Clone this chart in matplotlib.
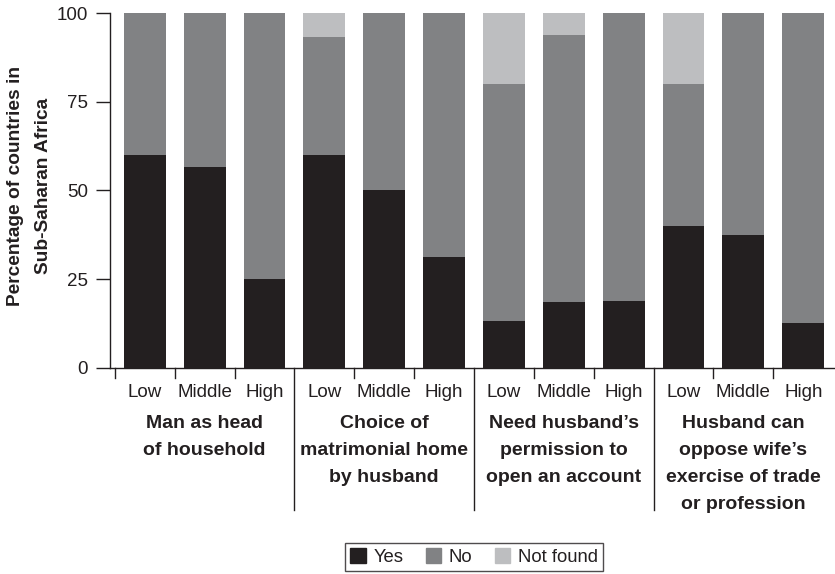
import matplotlib
matplotlib.use("Agg")
import matplotlib.pyplot as plt
from matplotlib.lines import Line2D
from matplotlib.patches import Patch
import matplotlib.transforms as mtransforms
import numpy as np

plt.rcParams['font.family'] = ['Liberation Sans', 'DejaVu Sans']

groups = [["Man as head", "of household"],
          ["Choice of", "matrimonial home", "by husband"],
          ["Need husband\u2019s", "permission to", "open an account"],
          ["Husband can", "oppose wife\u2019s", "exercise of trade", "or profession"]]
levels = ["Low", "Middle", "High"]
yes = [60, 56.5, 25, 60, 50, 31.25, 13.3, 18.5, 18.75, 40, 37.5, 12.5]
no = [40, 43.5, 75, 33.3, 50, 68.75, 66.7, 75.3, 81.25, 40, 62.5, 87.5]
not_found = [0, 0, 0, 6.7, 0, 0, 20, 6.2, 0, 20, 0, 0]

c_yes, c_no, c_nf = "#231f20", "#818284", "#bdbec0"
ink = "#231f20"

W, H = 835, 574
fig = plt.figure(figsize=(W/100, H/100), dpi=100)
y0, y1 = 367.7, 13.0
ax = fig.add_axes([110/W, 1-y0/H, 725/W, (y0-y1)/H])

def ay(py):
    return (y0 - py) / (y0 - y1)

x = np.arange(len(yes))
w = 0.70
yes_a = np.array(yes); no_a = np.array(no); nf_a = np.array(not_found)
ax.bar(x, yes_a, w, color=c_yes, label="Yes")
ax.bar(x, no_a, w, bottom=yes_a, color=c_no, label="No")
ax.bar(x, nf_a, w, bottom=yes_a+no_a, color=c_nf, label="Not found")

ax.set_xlim(-0.58, 11.53)
ax.set_ylim(0, 100)
ax.set_yticks([0, 25, 50, 75, 100])
ax.tick_params(axis='y', length=10, width=1, labelsize=13.5, color=ink, labelcolor=ink, pad=6)
for s in ["top", "right"]:
    ax.spines[s].set_visible(False)
for s in ["left", "bottom"]:
    ax.spines[s].set_color(ink)
    ax.spines[s].set_linewidth(1)

ax.set_xticks([])
bounds = [-0.5, 0.5, 1.5, 3.5, 4.5, 6.5, 7.5, 9.5, 10.5]
trans = mtransforms.blended_transform_factory(ax.transData, ax.transAxes)
for b in bounds:
    ax.add_line(Line2D([b, b], [0, ay(y0+10)], transform=trans, color=ink, lw=1, clip_on=False))
for b in [2.5, 5.5, 8.5]:
    ax.add_line(Line2D([b, b], [0, ay(510)], transform=trans, color=ink, lw=1, clip_on=False))

for i in range(len(yes)):
    ax.text(x[i], ay(396.7), levels[i % 3], transform=trans, ha='center', va='baseline',
            fontsize=13.5, color=ink)

for g, lines in enumerate(groups):
    for k, line in enumerate(lines):
        ax.text(3*g+1, ay(428 + 27*k), line, transform=trans, ha='center', va='baseline',
                fontsize=14, fontweight='bold', color=ink)

fig.text(16/W, 1-186/H, "Percentage of countries in", rotation=90, ha='center', va='center',
         fontsize=13.8, fontweight='bold', color=ink)
fig.text(44/W, 1-186/H, "Sub-Saharan Africa", rotation=90, ha='center', va='center',
         fontsize=13.8, fontweight='bold', color=ink)

handles = [Patch(color=c_yes, label="Yes"), Patch(color=c_no, label="No"), Patch(color=c_nf, label="Not found")]
leg = fig.legend(handles=handles, loc='center', bbox_to_anchor=(474/W, 1-557/H), ncol=3, fontsize=13.3,
                 frameon=True, fancybox=False, edgecolor=ink, handlelength=0.85, handleheight=0.85,
                 handletextpad=0.4, columnspacing=1.2, borderpad=0.3, borderaxespad=0)
leg.get_frame().set_linewidth(1)
for t in leg.get_texts():
    t.set_color(ink)

fig.savefig("out.png", dpi=100)
